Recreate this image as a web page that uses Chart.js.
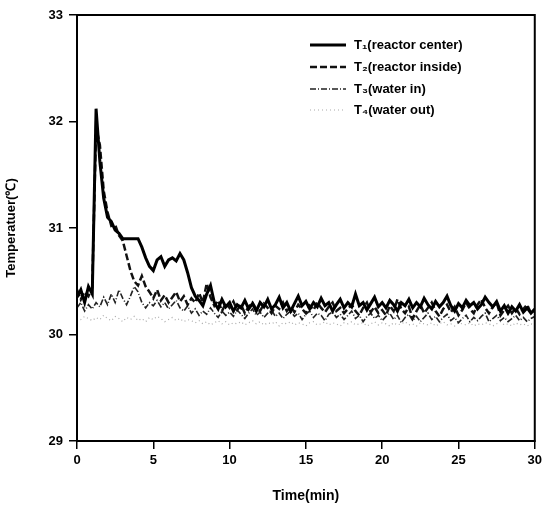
<!DOCTYPE html>
<html>
<head>
<meta charset="utf-8">
<script src="https://cdn.jsdelivr.net/npm/chart.js@4/dist/chart.umd.min.js"></script>
<style>
  html, body { margin: 0; padding: 0; background: #fff; }
  #wrap { width: 546px; height: 509px; position: relative; }
</style>
</head>
<body>
<div id="wrap"><canvas id="tempChart"></canvas></div>
<script>
// time axis, every 0.25 min
const times = [
  0, 0.25, 0.5, 0.75, 1, 1.25, 1.5, 1.75, 2, 2.25, 2.5, 2.75, 3, 3.25, 3.5, 3.75,
  4, 4.25, 4.5, 4.75, 5, 5.25, 5.5, 5.75, 6, 6.25, 6.5, 6.75, 7, 7.25, 7.5, 7.75,
  8, 8.25, 8.5, 8.75, 9, 9.25, 9.5, 9.75, 10, 10.25, 10.5, 10.75, 11, 11.25, 11.5, 11.75,
  12, 12.25, 12.5, 12.75, 13, 13.25, 13.5, 13.75, 14, 14.25, 14.5, 14.75, 15, 15.25, 15.5, 15.75,
  16, 16.25, 16.5, 16.75, 17, 17.25, 17.5, 17.75, 18, 18.25, 18.5, 18.75, 19, 19.25, 19.5, 19.75,
  20, 20.25, 20.5, 20.75, 21, 21.25, 21.5, 21.75, 22, 22.25, 22.5, 22.75, 23, 23.25, 23.5, 23.75,
  24, 24.25, 24.5, 24.75, 25, 25.25, 25.5, 25.75, 26, 26.25, 26.5, 26.75, 27, 27.25, 27.5, 27.75,
  28, 28.25, 28.5, 28.75, 29, 29.25, 29.5, 29.75, 30
];

const seriesNames = ['T\u2081(reactor center)', 'T\u2082(reactor inside)', 'T\u2083(water in)', 'T\u2084(water out)'];

// T1 reactor center
const t1 = [
  30.35, 30.42, 30.30, 30.45, 30.38, 32.12, 31.62, 31.28, 31.10, 31.06, 30.98, 30.95, 30.90, 30.90, 30.90, 30.90,
  30.90, 30.82, 30.72, 30.64, 30.60, 30.70, 30.73, 30.64, 30.70, 30.72, 30.69, 30.76, 30.70, 30.58, 30.44, 30.36,
  30.32, 30.27, 30.38, 30.46, 30.30, 30.24, 30.33, 30.26, 30.30, 30.22, 30.28, 30.25, 30.32, 30.24, 30.29, 30.22,
  30.30, 30.26, 30.33, 30.24, 30.28, 30.35, 30.25, 30.30, 30.22, 30.29, 30.36, 30.27, 30.31, 30.24, 30.30, 30.26,
  30.34, 30.27, 30.30, 30.22, 30.28, 30.33, 30.25, 30.30, 30.26, 30.38, 30.27, 30.30, 30.23, 30.29, 30.35, 30.26,
  30.30, 30.25, 30.32, 30.28, 30.22, 30.30, 30.27, 30.33, 30.25, 30.30, 30.26, 30.34, 30.28, 30.24, 30.31, 30.26,
  30.30, 30.36, 30.27, 30.22, 30.29, 30.25, 30.32, 30.27, 30.30, 30.24, 30.28, 30.35, 30.30, 30.26, 30.31, 30.22,
  30.27, 30.20, 30.26, 30.22, 30.28, 30.21, 30.25, 30.20, 30.24
];

// T2 reactor inside
const t2 = [
  30.42, 30.33, 30.40, 30.36, 30.44, 31.95, 31.78, 31.35, 31.15, 31.02, 31.03, 30.93, 30.88, 30.74, 30.60, 30.50,
  30.46, 30.55, 30.45, 30.40, 30.34, 30.42, 30.32, 30.37, 30.30, 30.35, 30.40, 30.31, 30.36, 30.28, 30.34, 30.30,
  30.39, 30.30, 30.48, 30.35, 30.27, 30.32, 30.22, 30.29, 30.25, 30.31, 30.23, 30.28, 30.20, 30.26, 30.30, 30.24,
  30.22, 30.29, 30.25, 30.20, 30.27, 30.24, 30.30, 30.22, 30.26, 30.21, 30.28, 30.24, 30.20, 30.27, 30.23, 30.30,
  30.25, 30.21, 30.26, 30.30, 30.22, 30.25, 30.20, 30.24, 30.28, 30.22, 30.18, 30.25, 30.30, 30.21, 30.26, 30.20,
  30.23, 30.18, 30.27, 30.22, 30.33, 30.24, 30.20, 30.26, 30.15, 30.22, 30.28, 30.20, 30.25, 30.30, 30.22, 30.17,
  30.24, 30.28, 30.21, 30.26, 30.18, 30.23, 30.30, 30.24, 30.20, 30.28, 30.33, 30.25, 30.20, 30.26, 30.30, 30.18,
  30.23, 30.27, 30.20, 30.25, 30.19, 30.24, 30.28, 30.20, 30.23
];

// T3 water in
const t3 = [
  30.25, 30.30, 30.22, 30.28, 30.24, 30.30, 30.26, 30.35, 30.28, 30.38, 30.30, 30.42, 30.34, 30.28, 30.36, 30.45,
  30.40, 30.30, 30.25, 30.30, 30.27, 30.32, 30.26, 30.30, 30.24, 30.28, 30.32, 30.25, 30.22, 30.27, 30.20, 30.24,
  30.18, 30.22, 30.19, 30.25, 30.20, 30.16, 30.22, 30.18, 30.21, 30.17, 30.23, 30.19, 30.15, 30.20, 30.24, 30.18,
  30.21, 30.16, 30.20, 30.23, 30.17, 30.20, 30.15, 30.19, 30.22, 30.17, 30.20, 30.14, 30.19, 30.22, 30.16, 30.20,
  30.18, 30.13, 30.19, 30.21, 30.16, 30.19, 30.14, 30.18, 30.22, 30.15, 30.18, 30.12, 30.17, 30.20, 30.15, 30.18,
  30.13, 30.17, 30.20, 30.14, 30.18, 30.11, 30.16, 30.19, 30.13, 30.17, 30.12, 30.16, 30.20, 30.14, 30.17, 30.12,
  30.16, 30.19, 30.13, 30.16, 30.11, 30.15, 30.18, 30.12, 30.16, 30.13, 30.17, 30.20, 30.12, 30.15, 30.18, 30.13,
  30.16, 30.12, 30.15, 30.18, 30.13, 30.16, 30.12, 30.15, 30.17
];

// T4 water out
const t4 = [
  30.16, 30.14, 30.17, 30.15, 30.13, 30.16, 30.14, 30.18, 30.15, 30.13, 30.17, 30.15, 30.12, 30.16, 30.14, 30.17,
  30.13, 30.15, 30.12, 30.16, 30.14, 30.17, 30.15, 30.12, 30.14, 30.16, 30.13, 30.15, 30.12, 30.14, 30.13, 30.11,
  30.13, 30.10, 30.12, 30.09, 30.11, 30.13, 30.10, 30.12, 30.09, 30.11, 30.10, 30.12, 30.09, 30.11, 30.13, 30.10,
  30.12, 30.09, 30.11, 30.10, 30.12, 30.08, 30.11, 30.10, 30.12, 30.09, 30.11, 30.10, 30.08, 30.11, 30.12, 30.09,
  30.10, 30.12, 30.09, 30.11, 30.10, 30.08, 30.11, 30.10, 30.12, 30.09, 30.10, 30.11, 30.08, 30.10, 30.12, 30.09,
  30.11, 30.10, 30.08, 30.11, 30.09, 30.10, 30.12, 30.09, 30.10, 30.08, 30.11, 30.10, 30.09, 30.11, 30.08, 30.10,
  30.12, 30.09, 30.10, 30.08, 30.11, 30.10, 30.09, 30.11, 30.08, 30.10, 30.09, 30.11, 30.10, 30.08, 30.10, 30.12,
  30.09, 30.10, 30.08, 30.11, 30.09, 30.10, 30.08, 30.10, 30.09
];

const xTicks = [0, 5, 10, 15, 20, 25, 30];
const yTicks = [29, 30, 31, 32, 33];

const FONT = 'Liberation Sans, Arial, sans-serif';

function toPoints(values) {
    return values.map((v, i) => ({ x: times[i], y: v }));
}

// box around plot + legend inside the plot
const framePlugin = {
    id: 'frame',
    afterDatasetsDraw(chart) {
        const { ctx, chartArea: a } = chart;
        ctx.save();
        ctx.strokeStyle = '#000';
        ctx.lineWidth = 2;
        ctx.strokeRect(a.left, a.top, a.right - a.left, a.bottom - a.top);

        // legend
        const x0 = 310, x1 = 346, tx = 354;
        const rows = [45, 67, 89, 110];
        ctx.font = 'bold 13px ' + FONT;
        ctx.textBaseline = 'middle';
        ctx.fillStyle = '#000';
        chart.data.datasets.forEach((ds, i) => {
            ctx.beginPath();
            ctx.setLineDash(ds.borderDash || []);
            ctx.strokeStyle = ds.borderColor;
            ctx.lineWidth = ds.borderWidth;
            ctx.moveTo(x0, rows[i]);
            ctx.lineTo(x1, rows[i]);
            ctx.stroke();
            ctx.setLineDash([]);
            ctx.fillText(ds.label, tx, rows[i]);
        });
        ctx.restore();
    }
};

const ctx = document.getElementById('tempChart').getContext('2d');
new Chart(ctx, {
    type: 'line',
    data: {
        datasets: [
            { label: seriesNames[0], data: toPoints(t1), borderColor: '#000', borderWidth: 3 },
            { label: seriesNames[1], data: toPoints(t2), borderColor: '#111', borderWidth: 2.5, borderDash: [7, 3] },
            { label: seriesNames[2], data: toPoints(t3), borderColor: '#222', borderWidth: 1.6, borderDash: [6, 2, 1, 2] },
            { label: seriesNames[3], data: toPoints(t4), borderColor: '#aaa', borderWidth: 1.2, borderDash: [1, 3] }
        ]
    },
    options: {
        responsive: true,
        maintainAspectRatio: false,
        animation: false,
        layout: { padding: { top: 15, right: 9, left: 2, bottom: 0 } },
        elements: { point: { radius: 0 }, line: { tension: 0 } },
        plugins: { legend: { display: false }, tooltip: { enabled: false } },
        scales: {
            x: {
                type: 'linear',
                min: 0,
                max: 30,
                afterFit(scale) { scale.height = 68; },
                afterBuildTicks(scale) { scale.ticks = xTicks.map(v => ({ value: v })); },
                ticks: { color: '#000', font: { family: FONT, size: 13, weight: 'bold' }, padding: 4, maxRotation: 0 },
                grid: { drawOnChartArea: false, drawTicks: true, tickLength: 8, color: '#000', lineWidth: 1.5 },
                border: { color: '#000', width: 2 },
                title: { display: true, text: 'Time(min)', color: '#000', font: { family: FONT, size: 14, weight: 'bold' }, padding: { top: 4 } }
            },
            y: {
                min: 29,
                max: 33,
                afterFit(scale) { scale.width = 75; },
                afterBuildTicks(scale) { scale.ticks = yTicks.map(v => ({ value: v })); },
                ticks: { color: '#000', font: { family: FONT, size: 13, weight: 'bold' }, padding: 6 },
                grid: { drawOnChartArea: false, drawTicks: true, tickLength: 8, color: '#000', lineWidth: 1.5 },
                border: { color: '#000', width: 2 },
                title: { display: true, text: 'Temperatuer(\u2103)', color: '#000', font: { family: FONT, size: 13, weight: 'bold' }, padding: { top: 2, bottom: 4 } }
            }
        }
    },
    plugins: [framePlugin]
});
</script>
</body>
</html>
